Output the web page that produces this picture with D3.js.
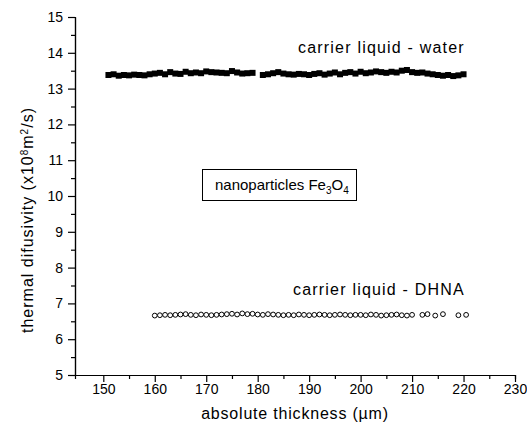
<!DOCTYPE html>
<html>
<head>
<meta charset="utf-8">
<script src="https://cdn.jsdelivr.net/npm/d3@7/dist/d3.min.js"></script>
<style>
  html, body { margin: 0; padding: 0; background: #fff; }
  svg { display: block; }
  text { font-family: Arial, "Liberation Sans", sans-serif; fill: #000; }
</style>
</head>
<body>
<svg id="chart" width="527" height="434"></svg>
<script>
// Thermal diffusivity vs. absolute thickness for two carrier liquids
const waterThickness = [
  151,152,153,154,155,156,157,158,159,160,
  161,162,163,164,165,166,167,168,169,170,
  171,172,173,174,175,176,177,178,179,
  181,182,183,184,185,186,187,188,189,190,
  191,192,193,194,195,196,197,198,199,200,
  201,202,203,204,205,206,207,208,209,210,
  211,212,213,214,215,216,217,218,219,220
];
const waterDiffusivity = [
  13.38,13.40,13.36,13.38,13.37,13.39,13.38,13.37,13.40,13.42,
  13.44,13.40,13.46,13.42,13.41,13.47,13.43,13.45,13.43,13.48,
  13.46,13.45,13.44,13.43,13.49,13.45,13.42,13.43,13.44,
  13.38,13.40,13.43,13.46,13.42,13.40,13.39,13.41,13.40,13.38,
  13.41,13.43,13.39,13.42,13.45,13.40,13.44,13.46,13.42,13.47,
  13.43,13.45,13.48,13.46,13.44,13.47,13.45,13.50,13.52,13.46,
  13.44,13.45,13.42,13.40,13.38,13.36,13.38,13.35,13.37,13.40
];
const dhnaThickness = [
  160,161,162,163,164,165,166,167,168,169,
  170,171,172,173,174,175,176,177,178,179,
  180,181,182,183,184,185,186,187,188,189,
  190,191,192,193,194,195,196,197,198,199,
  200,201,202,203,204,205,206,207,208,209,210,
  212,213,214.5,216,219,220.5
];
const dhnaDiffusivity = [
  6.66,6.67,6.68,6.67,6.68,6.69,6.70,6.68,6.67,6.69,
  6.68,6.67,6.68,6.69,6.70,6.71,6.69,6.72,6.70,6.71,
  6.69,6.68,6.70,6.69,6.68,6.67,6.68,6.67,6.69,6.68,
  6.67,6.68,6.69,6.68,6.67,6.68,6.69,6.68,6.67,6.68,
  6.68,6.67,6.69,6.68,6.66,6.67,6.68,6.69,6.67,6.66,6.68,
  6.68,6.70,6.66,6.70,6.67,6.68
];
const xTicks = [150,160,170,180,190,200,210,220,230];
const yTicks = [5,6,7,8,9,10,11,12,13,14,15];

const svg = d3.select("#chart");
const x = d3.scaleLinear().domain([144.5, 230]).range([75, 515]);
const y = d3.scaleLinear().domain([5, 15]).range([375, 17]);

// axes: major ticks with labels, minor ticks halfway
const xAxis = d3.axisBottom(x).tickValues(xTicks).tickSize(7).tickSizeOuter(0).tickPadding(2);
const xMinor = d3.axisBottom(x).tickValues(d3.range(155, 230, 10)).tickSize(4).tickFormat("");
const yAxis = d3.axisLeft(y).tickValues(yTicks).tickSize(7).tickSizeOuter(0).tickPadding(5);
const yMinor = d3.axisLeft(y).tickValues(d3.range(5.5, 15, 1)).tickSize(4).tickFormat("");

function styleAxis(g) {
  g.select(".domain").attr("stroke", "#000").attr("stroke-width", 1.2);
  g.selectAll(".tick line").attr("stroke", "#000").attr("stroke-width", 1.2);
  g.selectAll("text").attr("font-size", 14).attr("font-family", "Arial, 'Liberation Sans', sans-serif");
}
svg.append("g").attr("transform", "translate(0,375)").call(xMinor).call(styleAxis);
svg.append("g").attr("transform", "translate(0,375)").call(xAxis).call(styleAxis);
svg.append("g").attr("transform", "translate(75,0)").call(yMinor).call(styleAxis);
svg.append("g").attr("transform", "translate(75,0)").call(yAxis).call(styleAxis);

// axis titles
svg.append("text")
  .attr("x", 295).attr("y", 419)
  .attr("text-anchor", "middle")
  .attr("font-size", 16).attr("letter-spacing", 0.8)
  .text("absolute thickness (\u00b5m)");

const yTitle = svg.append("text")
  .attr("transform", "translate(33,220) rotate(-90)")
  .attr("text-anchor", "middle")
  .attr("font-size", 16).attr("letter-spacing", 1.0);
yTitle.append("tspan").text("thermal difusivity (x10");
yTitle.append("tspan").attr("baseline-shift", "super").attr("font-size", 10).text("8");
yTitle.append("tspan").text("m");
yTitle.append("tspan").attr("baseline-shift", "super").attr("font-size", 10).text("2");
yTitle.append("tspan").text("/s)");

// water series: filled squares
const sq = 6;
svg.append("g").selectAll("rect")
  .data(d3.zip(waterThickness, waterDiffusivity))
  .join("rect")
  .attr("x", d => x(d[0]) - sq / 2)
  .attr("y", d => y(d[1]) - sq / 2)
  .attr("width", sq).attr("height", sq)
  .attr("fill", "#000");

// DHNA series: open circles
svg.append("g").selectAll("circle")
  .data(d3.zip(dhnaThickness, dhnaDiffusivity))
  .join("circle")
  .attr("cx", d => x(d[0]))
  .attr("cy", d => y(d[1]))
  .attr("r", 2.4)
  .attr("fill", "#fff")
  .attr("stroke", "#000")
  .attr("stroke-width", 1);

// series annotations
svg.append("text")
  .attr("x", 298).attr("y", 53)
  .attr("font-size", 16).attr("letter-spacing", 1.2)
  .text("carrier liquid - water");
svg.append("text")
  .attr("x", 293).attr("y", 295)
  .attr("font-size", 16).attr("letter-spacing", 1.2)
  .text("carrier liquid - DHNA");

// material label in a box
svg.append("rect")
  .attr("x", 202.5).attr("y", 169.5)
  .attr("width", 154).attr("height", 31)
  .attr("fill", "#fff").attr("stroke", "#000").attr("stroke-width", 1);
const mat = svg.append("text")
  .attr("x", 215).attr("y", 190)
  .attr("font-size", 15);
mat.append("tspan").text("nanoparticles Fe");
mat.append("tspan").attr("dy", 4).attr("font-size", 10).text("3");
mat.append("tspan").attr("dy", -4).text("O");
mat.append("tspan").attr("dy", 4).attr("font-size", 10).text("4");
</script>
</body>
</html>
